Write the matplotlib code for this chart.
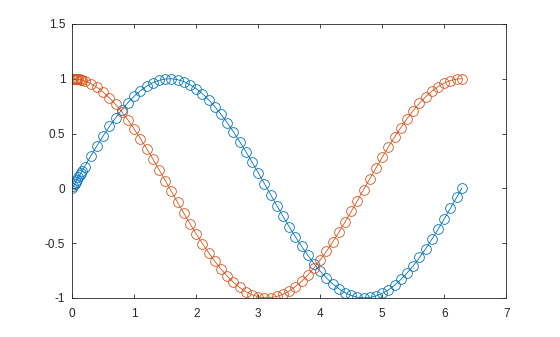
import matplotlib
matplotlib.use("Agg")
import matplotlib.pyplot as plt

x = [0.0, 0.02, 0.04, 0.06, 0.08, 0.10, 0.12, 0.14, 0.16,
     0.2, 0.3, 0.4, 0.5, 0.6, 0.7, 0.8, 0.9, 1.0,
     1.1, 1.2, 1.3, 1.4, 1.5, 1.6, 1.7, 1.8, 1.9, 2.0,
     2.1, 2.2, 2.3, 2.4, 2.5, 2.6, 2.7, 2.8, 2.9, 3.0,
     3.1, 3.2, 3.3, 3.4, 3.5, 3.6, 3.7, 3.8, 3.9, 4.0,
     4.1, 4.2, 4.3, 4.4, 4.5, 4.6, 4.7, 4.8, 4.9, 5.0,
     5.1, 5.2, 5.3, 5.4, 5.5, 5.6, 5.7, 5.8, 5.9, 6.0,
     6.1, 6.2, 6.283]

y_sin = [0.0, 0.020, 0.040, 0.060, 0.080, 0.100, 0.120, 0.140, 0.159,
         0.199, 0.296, 0.389, 0.479, 0.565, 0.644, 0.717, 0.783, 0.841,
         0.891, 0.932, 0.964, 0.985, 0.997, 1.000, 0.992, 0.974, 0.946, 0.909,
         0.863, 0.808, 0.746, 0.675, 0.598, 0.516, 0.427, 0.335, 0.239, 0.141,
         0.042, -0.058, -0.158, -0.256, -0.351, -0.443, -0.530, -0.612, -0.688, -0.757,
         -0.818, -0.872, -0.916, -0.952, -0.978, -0.994, -1.000, -0.996, -0.982, -0.959,
         -0.926, -0.883, -0.832, -0.773, -0.706, -0.631, -0.551, -0.465, -0.374, -0.279,
         -0.182, -0.083, 0.000]

y_cos = [1.0, 1.000, 0.999, 0.998, 0.997, 0.995, 0.993, 0.990, 0.987,
         0.980, 0.955, 0.921, 0.878, 0.825, 0.765, 0.697, 0.622, 0.540,
         0.454, 0.362, 0.267, 0.170, 0.071, -0.029, -0.129, -0.227, -0.323, -0.416,
         -0.505, -0.589, -0.666, -0.737, -0.801, -0.857, -0.904, -0.942, -0.971, -0.990,
         -0.999, -0.998, -0.987, -0.967, -0.936, -0.897, -0.848, -0.791, -0.726, -0.654,
         -0.575, -0.490, -0.401, -0.307, -0.211, -0.112, -0.012, 0.087, 0.187, 0.284,
         0.378, 0.469, 0.554, 0.635, 0.709, 0.776, 0.835, 0.886, 0.927, 0.960,
         0.983, 0.997, 1.000]

xticks = [0, 1, 2, 3, 4, 5, 6, 7]
yticks = [-1, -0.5, 0, 0.5, 1, 1.5]
ytick_labels = ["-1", "-0.5", "0", "0.5", "1", "1.5"]

plt.rcParams['font.family'] = ['Liberation Sans', 'DejaVu Sans']

fig = plt.figure(figsize=(5.6, 3.37), dpi=100)
ax = fig.add_axes([0.129, 0.116, 0.775, 0.813])

ax.plot(x, y_sin, '-o', color='#0072BD', lw=0.6, ms=7, mfc='none', mew=0.6)
ax.plot(x, y_cos, '-o', color='#D95319', lw=0.6, ms=7, mfc='none', mew=0.6)

ax.set_xlim(0, 7)
ax.set_ylim(-1, 1.5)
ax.set_xticks(xticks)
ax.set_yticks(yticks)
ax.set_yticklabels(ytick_labels)
ax.tick_params(direction='in', top=True, right=True, length=3, width=0.6,
               labelsize=8.5, colors='#262626')
ax.tick_params(axis='x', pad=7.5)
ax.tick_params(axis='y', pad=5)
for s in ax.spines.values():
    s.set_linewidth(0.6)
    s.set_color('#262626')

fig.savefig("out.png", dpi=100)
